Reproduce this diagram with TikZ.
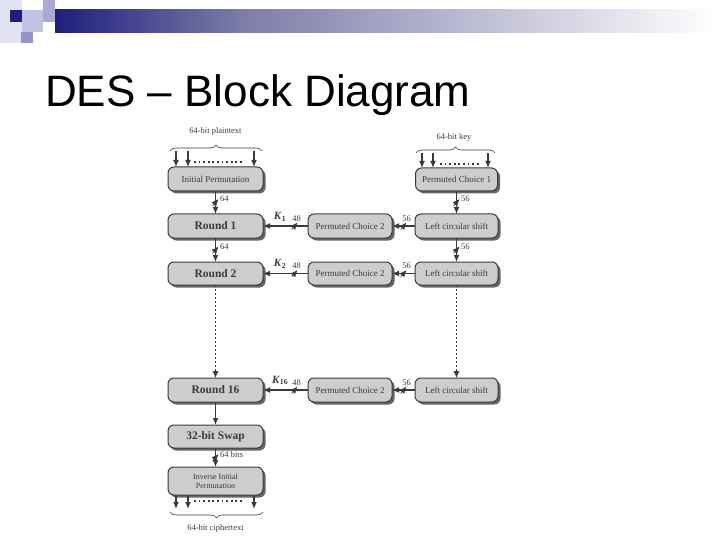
\documentclass[tikz,border=0pt]{standalone}
\usepackage{fontspec}
\setmainfont{Liberation Serif}
\newfontfamily\titlefont{Liberation Sans}
\usepackage{tikz}
\usetikzlibrary{arrows.meta,positioning,shadows,decorations.pathreplacing}
\usepackage{xcolor}
\definecolor{ink}{HTML}{3A3A3A}
\definecolor{boxgray}{HTML}{CDCDCD}
\definecolor{navy}{HTML}{1E1E7E}
\definecolor{midnavy}{HTML}{7C7CA8}
\definecolor{lav}{HTML}{C4C4E2}
\definecolor{paleLav}{HTML}{E2E2F2}
\definecolor{purp}{HTML}{9494C8}
\newcommand{\Kr}[1]{\textbf{\textit{K}\textsubscript{#1}}}

\begin{document}
\begin{tikzpicture}[x=1pt, y=1pt, >={Latex[length=7pt,width=6pt]}, node distance=23pt,
  b/.style={draw=ink, line width=1pt, fill=boxgray, rounded corners=6pt, minimum width=95pt,
    minimum height=24pt, inner sep=1pt, outer sep=0pt, font=\fontsize{9}{10}\selectfont, text=ink, align=center,
    drop shadow={shadow xshift=2.5pt, shadow yshift=-2.5pt, fill=black!60, opacity=1}},
  rb/.style={b, font=\fontsize{11.5}{12}\selectfont\bfseries},
  kb/.style={b, minimum width=84pt},
  e/.style={->, line width=1.3pt, draw=ink},
  n/.style={font=\fontsize{8.5}{9}\selectfont, text=ink, inner sep=1pt},
  br/.style={draw=ink, line width=0.6pt, decorate, decoration={brace, amplitude=6pt}},
  dots/.style={draw=ink, line width=1.8pt, dash pattern=on 1.8pt off 2.8pt},
  bus/.pic={\draw[line width=0.6pt, ink] (-3,-3.5) -- (3,3.5);}]
\useasboundingbox (0,0) rectangle (720,-540);
% slide header
\fill[paleLav] (0,0) rectangle (22,-43);
\fill[navy] (10,-10) rectangle (22,-22);
\fill[lav] (22,-10) rectangle (43,-22);
\fill[purp!80] (43,0) rectangle (55,-22);
\fill[lav] (22,-22) rectangle (43,-32);
\fill[purp] (21,-32) rectangle (33,-43);
\shade[left color=navy, right color=midnavy] (55,-10) rectangle (240,-33);
\shade[left color=midnavy, right color=white] (240,-10) rectangle (716,-33);
\node[font=\titlefont\fontsize{44}{48}\selectfont, anchor=base west, inner sep=0] (title) at (45,-107) {DES – Block Diagram};

% data path
\node[b] (ip) at (215.5,-179) {Initial Permutation};
\node[rb, below=of ip] (r1) {Round 1};
\node[rb, below=24pt of r1, minimum height=23pt] (r2) {Round 2};
\node[rb, below=93pt of r2] (r16) {Round 16};
\node[rb, below=of r16, minimum height=23pt] (swap) {32-bit Swap};
\node[b, below=19pt of swap, minimum height=28pt, font=\fontsize{8}{9}\selectfont] (iip) {Inverse Initial\\Permutation};

% key schedule
\node[kb, right=45pt of r1] (pc2a) {Permuted Choice 2};
\node[kb, right=of pc2a, minimum width=83pt] (ls1) {Left circular shift};
\node[kb, above=of ls1, minimum width=82pt, minimum height=23pt] (pc1) {Permuted Choice 1};
\node[kb, right=45pt of r2, minimum height=23pt] (pc2b) {Permuted Choice 2};
\node[kb, right=of pc2b, minimum width=83pt, minimum height=23pt] (ls2) {Left circular shift};
\node[kb, right=45pt of r16] (pc2c) {Permuted Choice 2};
\node[kb, right=of pc2c, minimum width=83pt] (ls16) {Left circular shift};

% inputs and output
\node[n, font=\fontsize{8.5}{10}\selectfont] (pt) at (215.5,-131) {64-bit plaintext};
\draw[br] (170,-151) -- (262,-151);
\foreach \x in {176,188,254} \draw[e] (\x,-151) -- (\x,0 |- ip.north);
\draw[dots] (194,-162) -- (242,-162);
\node[n, font=\fontsize{8.5}{10}\selectfont] (key) at (454,-137) {64-bit key};
\draw[br] (416,-153) -- (495,-153);
\foreach \x in {422,433,488} \draw[e] (\x,-153) -- (\x,0 |- pc1.north);
\draw[dots] (440,-164) -- (480,-164);
\foreach \x in {176,188,254} \draw[e] (\x,0 |- iip.south) -- (\x,-509);
\draw[dots] (194,-501) -- (244,-501);
\draw[br] (263,-512) -- (170,-512);
\node[n, font=\fontsize{8.5}{10}\selectfont] (ct) at (215.5,-528) {64-bit ciphertext};

% connectors
\draw[e] (ip) -- (r1) pic[pos=.5]{bus} node[n, pos=.35, right=3pt]{64};
\draw[e] (r1) -- (r2) pic[pos=.5]{bus} node[n, pos=.35, right=3pt]{64};
\draw[e, line width=0.9pt, dash pattern=on 2pt off 2pt] (r2) -- (r16);
\draw[e] (r16) -- (swap);
\draw[e] (swap) -- (iip) pic[pos=.5]{bus} node[n, pos=.35, right=3pt]{64 bits};
\draw[e] (pc1) -- (ls1) pic[pos=.5]{bus} node[n, pos=.35, right=3pt]{56};
\draw[e] (ls1) -- (ls2) pic[pos=.5]{bus} node[n, pos=.35, right=3pt]{56};
\draw[e, line width=0.9pt, dash pattern=on 2pt off 2pt] (ls2) -- (ls16);
\foreach \l/\p/\k in {ls1/pc2a/r1, ls2/pc2b/r2, ls16/pc2c/r16} {
  \draw[e] (\l) -- (\p) pic[pos=.5]{bus} node[n, pos=.5, above=3pt, xshift=3pt]{56};
}
\draw[e] (pc2a) -- (r1) pic[pos=.3]{bus} node[n, pos=.3, above=3pt, xshift=2pt]{48}
  node[pos=.62, above=1pt, font=\fontsize{11}{12}\selectfont, text=ink]{\Kr{1}};
\draw[e] (pc2b) -- (r2) pic[pos=.3]{bus} node[n, pos=.3, above=3pt, xshift=2pt]{48}
  node[pos=.62, above=1pt, font=\fontsize{11}{12}\selectfont, text=ink]{\Kr{2}};
\draw[e] (pc2c) -- (r16) pic[pos=.3]{bus} node[n, pos=.3, above=3pt, xshift=2pt]{48}
  node[pos=.62, above=1pt, font=\fontsize{11}{12}\selectfont, text=ink]{\Kr{16}};
\end{tikzpicture}
\end{document}
